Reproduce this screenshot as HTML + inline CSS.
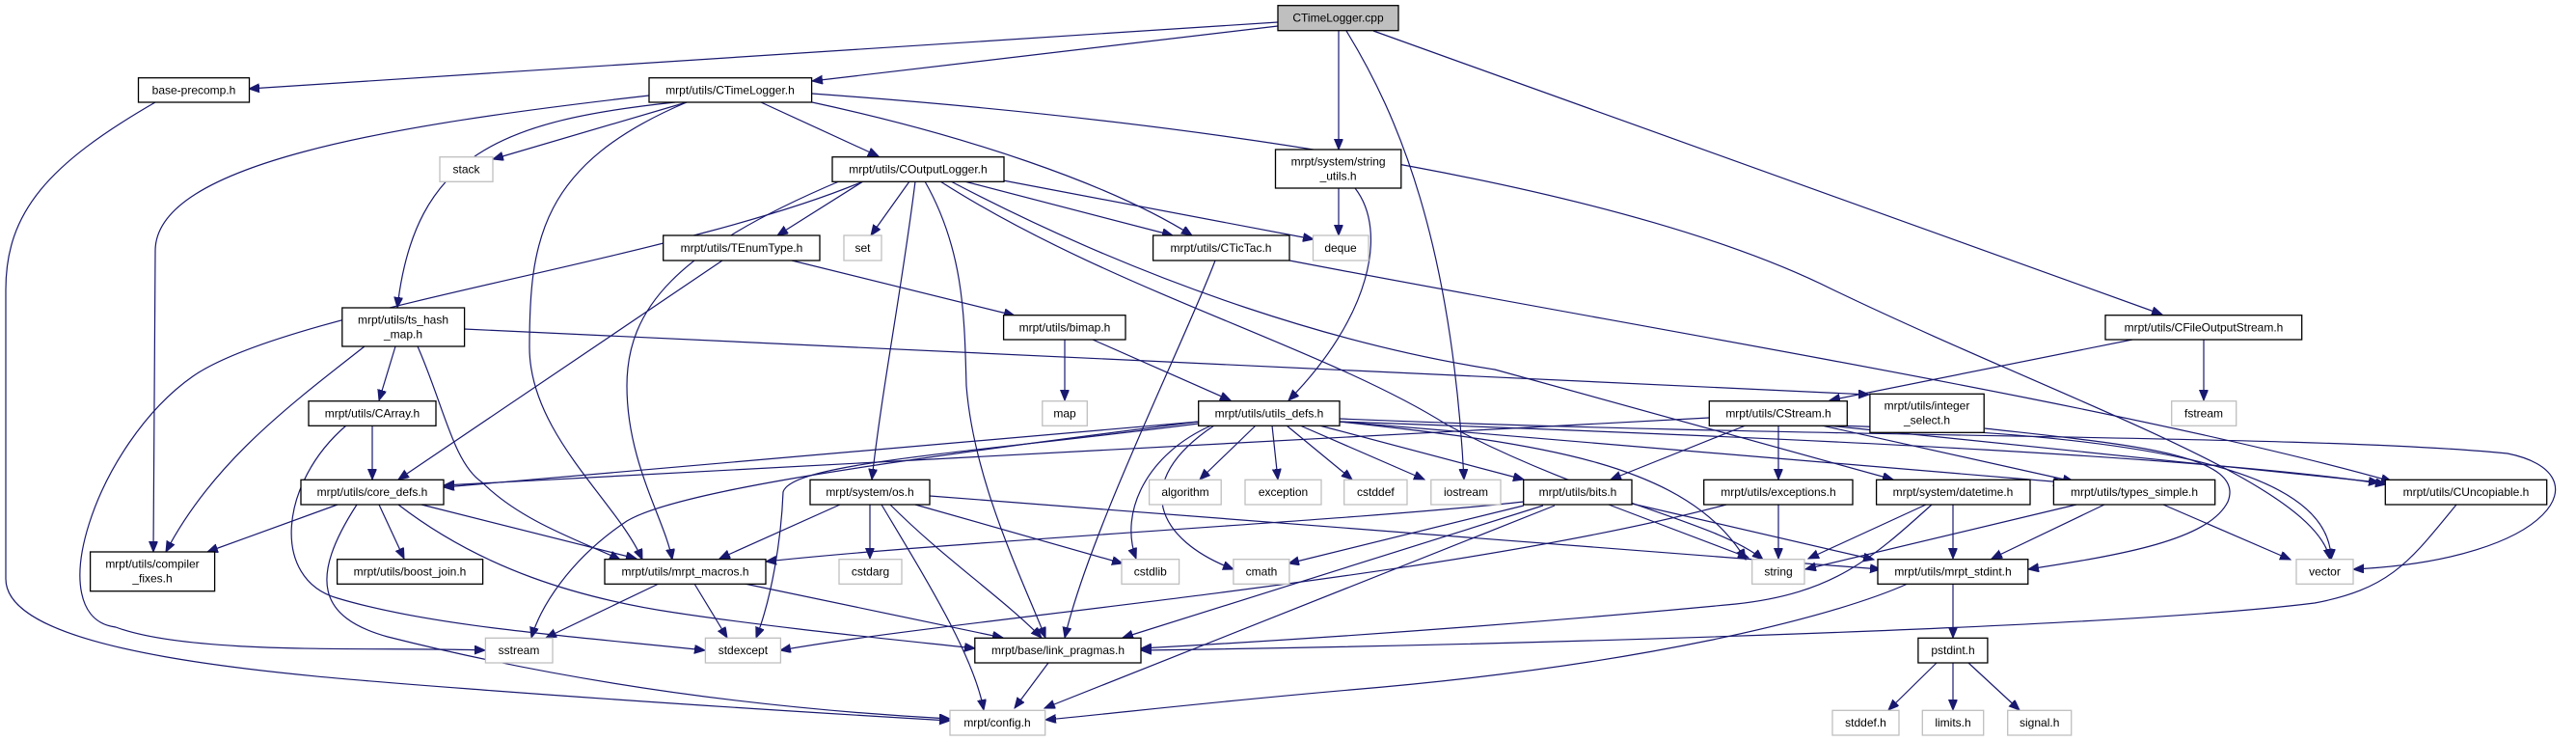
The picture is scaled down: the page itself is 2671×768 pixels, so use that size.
<!DOCTYPE html>
<html><head><meta charset="utf-8"><style>
html,body{margin:0;padding:0;background:#fff;}
svg{display:block;}
text{font-family:"Liberation Sans",Arial,sans-serif;font-size:12px;text-anchor:middle;fill:#000;}
.e{fill:none;stroke:#191970;stroke-width:1.2;marker-end:url(#a);}
.n{fill:#fff;stroke:#000;stroke-width:1.3;}
.g{fill:#fff;stroke:#bfbfbf;stroke-width:1.3;}
</style></head><body>
<svg width="2671" height="768" viewBox="0 0 2671 768" xmlns="http://www.w3.org/2000/svg">
<defs><marker id="a" markerUnits="userSpaceOnUse" markerWidth="12" markerHeight="10" refX="11" refY="4.5" orient="auto"><path d="M0,0 L11,4.5 L0,9 z" fill="#191970" stroke="#191970"/></marker></defs>
<g>
<path class="e" d="M1325,23 L258,92"/>
<path class="e" d="M1325,27 L842,84"/>
<path class="e" d="M1388,32 L1388,155"/>
<path class="e" d="M1396,32 C1450,120 1505,250 1518,497"/>
<path class="e" d="M1424,32 L2242,326"/>
<path class="e" d="M712,106 L511,165"/>
<path class="e" d="M700,106 C520,125 430,160 412,319"/>
<path class="e" d="M712,106 C560,170 549,250 549,360 C549,450 640,520 666,580"/>
<path class="e" d="M673,99 C400,130 161,170 161,260 L159,572"/>
<path class="e" d="M789,106 L911,162"/>
<path class="e" d="M842,106 C1000,140 1150,190 1236,244"/>
<path class="e" d="M842,97 C1300,130 1700,200 1900,300 C2150,420 2400,500 2416,580"/>
<path class="e" d="M161,106 C50,170 6,220 6,300 L6,600 C6,680 300,700 500,715 C700,730 900,742 985,747"/>
<path class="e" d="M895,188 C700,270 300,320 200,390 C100,460 40,640 120,650 C200,680 400,670 503,674"/>
<path class="e" d="M870,188 C700,260 650,320 650,400 C650,480 690,540 697,580"/>
<path class="e" d="M895,188 L806,244"/>
<path class="e" d="M943,188 L903,244"/>
<path class="e" d="M949,188 C935,300 915,400 904,497"/>
<path class="e" d="M959,188 C1000,260 1000,330 1002,400 C1010,500 1060,600 1084,661"/>
<path class="e" d="M975,188 C1150,300 1373,360 1500,440 C1650,520 1780,540 1828,580"/>
<path class="e" d="M986,188 C1200,300 1400,360 1550,383 L1963,497"/>
<path class="e" d="M1000,188 L1216,244"/>
<path class="e" d="M1040,187 L1362,248"/>
<path class="e" d="M1388,195 L1388,244"/>
<path class="e" d="M1405,195 C1440,240 1420,330 1336,415"/>
<path class="e" d="M821,270 L1052,327"/>
<path class="e" d="M749,270 L413,497"/>
<path class="e" d="M1260,270 C1230,350 1130,550 1104,661"/>
<path class="e" d="M1337,270 C1700,340 2200,420 2480,499"/>
<path class="e" d="M1104,352 L1104,415"/>
<path class="e" d="M1133,352 L1276,415"/>
<path class="e" d="M2211,352 L1897,415"/>
<path class="e" d="M2285,352 L2285,415"/>
<path class="e" d="M410,359 L393,415"/>
<path class="e" d="M378,359 C300,420 220,480 172,572"/>
<path class="e" d="M433,359 C460,420 470,480 500,500 C540,540 600,560 643,580"/>
<path class="e" d="M481,341 L1938,409"/>
<path class="e" d="M386,441 L386,497"/>
<path class="e" d="M359,441 C290,500 280,600 350,620 C450,650 600,660 731,674"/>
<path class="e" d="M350,523 L215,572"/>
<path class="e" d="M393,523 L419,579"/>
<path class="e" d="M437,523 L660,579"/>
<path class="e" d="M413,523 C500,590 600,620 700,635 C800,650 900,660 1011,672"/>
<path class="e" d="M370,523 C320,600 330,640 402,660 C600,710 800,735 985,745"/>
<path class="e" d="M683,605 L566,661"/>
<path class="e" d="M720,605 L754,661"/>
<path class="e" d="M772,605 L1040,661"/>
<path class="e" d="M871,523 L746,579"/>
<path class="e" d="M902,523 L902,579"/>
<path class="e" d="M949,523 L1164,584"/>
<path class="e" d="M923,523 C980,580 1040,620 1080,661"/>
<path class="e" d="M914,523 C960,600 1010,680 1020,736"/>
<path class="e" d="M964,514 L1950,590"/>
<path class="e" d="M1302,441 L1244,497"/>
<path class="e" d="M1319,441 L1325,497"/>
<path class="e" d="M1334,441 L1402,497"/>
<path class="e" d="M1348,441 L1477,497"/>
<path class="e" d="M1368,441 L1580,497"/>
<path class="e" d="M1256,441 C1190,470 1160,530 1178,579"/>
<path class="e" d="M1259,441 C1170,500 1200,560 1279,590"/>
<path class="e" d="M1243,437 L460,505"/>
<path class="e" d="M1243,437 C900,480 700,510 650,540 C590,580 560,630 551,661"/>
<path class="e" d="M1243,439 C1000,470 820,480 812,510 C810,560 800,620 784,661"/>
<path class="e" d="M1389,437 C1600,460 1750,480 1810,580"/>
<path class="e" d="M1389,434 C1900,455 2400,450 2600,470 C2700,490 2650,580 2440,590"/>
<path class="e" d="M1389,437 L2140,500"/>
<path class="e" d="M1389,437 C1900,455 2300,475 2474,502"/>
<path class="e" d="M1580,524 L1336,584"/>
<path class="e" d="M1600,524 L1164,661"/>
<path class="e" d="M1612,524 L1083,734"/>
<path class="e" d="M1580,520 C1400,540 1000,560 794,582"/>
<path class="e" d="M1668,523 L1813,578"/>
<path class="e" d="M1692,522 L1943,580"/>
<path class="e" d="M1810,441 L1670,497"/>
<path class="e" d="M1844,441 L1844,497"/>
<path class="e" d="M1772,433 L460,503"/>
<path class="e" d="M1889,441 L2150,499"/>
<path class="e" d="M1895,441 L2467,500"/>
<path class="e" d="M1900,441 C2200,450 2417,480 2417,580"/>
<path class="e" d="M1844,523 L1844,579"/>
<path class="e" d="M1790,523 C1500,600 1000,640 809,674"/>
<path class="e" d="M1997,523 L1875,579"/>
<path class="e" d="M2025,523 L2025,579"/>
<path class="e" d="M2003,523 C1940,580 1900,615 1800,626 C1600,645 1400,660 1183,672"/>
<path class="e" d="M2153,523 L1872,590"/>
<path class="e" d="M2182,523 L2065,579"/>
<path class="e" d="M2243,523 L2375,580"/>
<path class="e" d="M2058,444 C2200,460 2330,470 2310,520 C2290,560 2200,575 2103,590"/>
<path class="e" d="M2547,523 C2500,580 2480,610 2400,625 C2200,650 1600,668 1183,674"/>
<path class="e" d="M2025,605 L2025,661"/>
<path class="e" d="M1978,605 C1900,640 1700,690 1400,715 C1250,728 1150,740 1084,746"/>
<path class="e" d="M2008,687 L1958,736"/>
<path class="e" d="M2025,687 L2025,736"/>
<path class="e" d="M2041,687 L2094,736"/>
<path class="e" d="M1087,687 L1052,734"/>
</g>
<g>
<rect x="1325" y="5.7" width="125" height="26" fill="#bfbfbf" stroke="#000" stroke-width="1.3"/><text x="1387.5" y="22.5">CTimeLogger.cpp</text>
<rect class="n" x="143.5" y="80.7" width="115" height="25.3"/><text x="201" y="97.5">base-precomp.h</text>
<rect class="n" x="673" y="80.7" width="168.6" height="25.3"/><text x="757" y="97.5">mrpt/utils/CTimeLogger.h</text>
<rect class="g" x="456" y="162.7" width="55" height="25.6"/><text x="483.5" y="179.5">stack</text>
<rect class="n" x="863" y="162.7" width="178" height="25.6"/><text x="952" y="179.5">mrpt/utils/COutputLogger.h</text>
<rect class="n" x="1322.5" y="155" width="130.3" height="40"/><text x="1387.6" y="171.5">mrpt/system/string</text><text x="1387.6" y="186.5">_utils.h</text>
<rect class="n" x="687.7" y="244" width="162.3" height="26"/><text x="769" y="261">mrpt/utils/TEnumType.h</text>
<rect class="g" x="875" y="244" width="39" height="26"/><text x="894.5" y="261">set</text>
<rect class="n" x="1195.6" y="244" width="141.4" height="26"/><text x="1266" y="261">mrpt/utils/CTicTac.h</text>
<rect class="g" x="1361.5" y="244" width="57.5" height="26"/><text x="1390" y="261">deque</text>
<rect class="n" x="354.8" y="319" width="126.8" height="40"/><text x="418" y="335.5">mrpt/utils/ts_hash</text><text x="418" y="350.5">_map.h</text>
<rect class="n" x="1040.6" y="326.7" width="126.4" height="25.3"/><text x="1104" y="343.5">mrpt/utils/bimap.h</text>
<rect class="n" x="2183" y="326.7" width="203.7" height="25.3"/><text x="2285" y="343.5">mrpt/utils/CFileOutputStream.h</text>
<rect class="n" x="320" y="415.7" width="132" height="25.6"/><text x="386" y="432.5">mrpt/utils/CArray.h</text>
<rect class="g" x="1080.8" y="415.7" width="46.5" height="25.6"/><text x="1104" y="432.5">map</text>
<rect class="n" x="1242.7" y="415.7" width="146.3" height="25.6"/><text x="1316" y="432.5">mrpt/utils/utils_defs.h</text>
<rect class="n" x="1772.3" y="415.7" width="143" height="25.6"/><text x="1844" y="432.5">mrpt/utils/CStream.h</text>
<rect class="n" x="1938.9" y="408.3" width="118.3" height="40"/><text x="1998" y="424.5">mrpt/utils/integer</text><text x="1998" y="439.5">_select.h</text>
<rect class="g" x="2251.7" y="415.7" width="67" height="25.6"/><text x="2285" y="432.5">fstream</text>
<rect class="n" x="312" y="497.3" width="148" height="25.7"/><text x="386" y="514">mrpt/utils/core_defs.h</text>
<rect class="n" x="840" y="497.3" width="124" height="25.7"/><text x="902" y="514">mrpt/system/os.h</text>
<rect class="g" x="1191.6" y="497.3" width="74.6" height="25.7"/><text x="1229" y="514">algorithm</text>
<rect class="g" x="1291" y="497.3" width="79" height="25.7"/><text x="1330.5" y="514">exception</text>
<rect class="g" x="1393.7" y="497.3" width="65.3" height="25.7"/><text x="1426.4" y="514">cstddef</text>
<rect class="g" x="1483.8" y="497.3" width="72.2" height="25.7"/><text x="1520" y="514">iostream</text>
<rect class="n" x="1579.7" y="497.3" width="112.3" height="25.7"/><text x="1636" y="514">mrpt/utils/bits.h</text>
<rect class="n" x="1766.7" y="497.3" width="154.3" height="25.7"/><text x="1844" y="514">mrpt/utils/exceptions.h</text>
<rect class="n" x="1945.6" y="497.3" width="159.4" height="25.7"/><text x="2025" y="514">mrpt/system/datetime.h</text>
<rect class="n" x="2129.4" y="497.3" width="167.3" height="25.7"/><text x="2213" y="514">mrpt/utils/types_simple.h</text>
<rect class="n" x="2473.3" y="497.3" width="167.4" height="25.7"/><text x="2557" y="514">mrpt/utils/CUncopiable.h</text>
<rect class="n" x="93.6" y="572" width="129" height="40.7"/><text x="158" y="588.5">mrpt/utils/compiler</text><text x="158" y="603.5">_fixes.h</text>
<rect class="n" x="349.6" y="579.7" width="151" height="25.6"/><text x="425" y="596.5">mrpt/utils/boost_join.h</text>
<rect class="n" x="627" y="579.7" width="167" height="25.6"/><text x="710.5" y="596.5">mrpt/utils/mrpt_macros.h</text>
<rect class="g" x="870" y="579.7" width="65" height="25.6"/><text x="902.5" y="596.5">cstdarg</text>
<rect class="g" x="1163" y="579.7" width="59.6" height="25.6"/><text x="1192.8" y="596.5">cstdlib</text>
<rect class="g" x="1278.9" y="579.7" width="58" height="25.6"/><text x="1308" y="596.5">cmath</text>
<rect class="g" x="1816.7" y="579.7" width="54.3" height="25.6"/><text x="1844" y="596.5">string</text>
<rect class="n" x="1947" y="579.7" width="155.8" height="25.6"/><text x="2025" y="596.5">mrpt/utils/mrpt_stdint.h</text>
<rect class="g" x="2381" y="579.7" width="59" height="25.6"/><text x="2410.5" y="596.5">vector</text>
<rect class="g" x="503.4" y="661.3" width="69.6" height="25.7"/><text x="538" y="678">sstream</text>
<rect class="g" x="731.4" y="661.3" width="78" height="25.7"/><text x="770.4" y="678">stdexcept</text>
<rect class="n" x="1010.8" y="661.3" width="172.2" height="25.7"/><text x="1097" y="678">mrpt/base/link_pragmas.h</text>
<rect class="n" x="1988.9" y="661.3" width="72" height="25.7"/><text x="2025" y="678">pstdint.h</text>
<rect class="g" x="985" y="736.3" width="98.7" height="25.7"/><text x="1034" y="753">mrpt/config.h</text>
<rect class="g" x="1900" y="736.3" width="69" height="25.7"/><text x="1934.5" y="753">stddef.h</text>
<rect class="g" x="1993.3" y="736.3" width="63.4" height="25.7"/><text x="2025" y="753">limits.h</text>
<rect class="g" x="2081.7" y="736.3" width="66" height="25.7"/><text x="2114.7" y="753">signal.h</text>
</g>
</svg>
</body></html>
